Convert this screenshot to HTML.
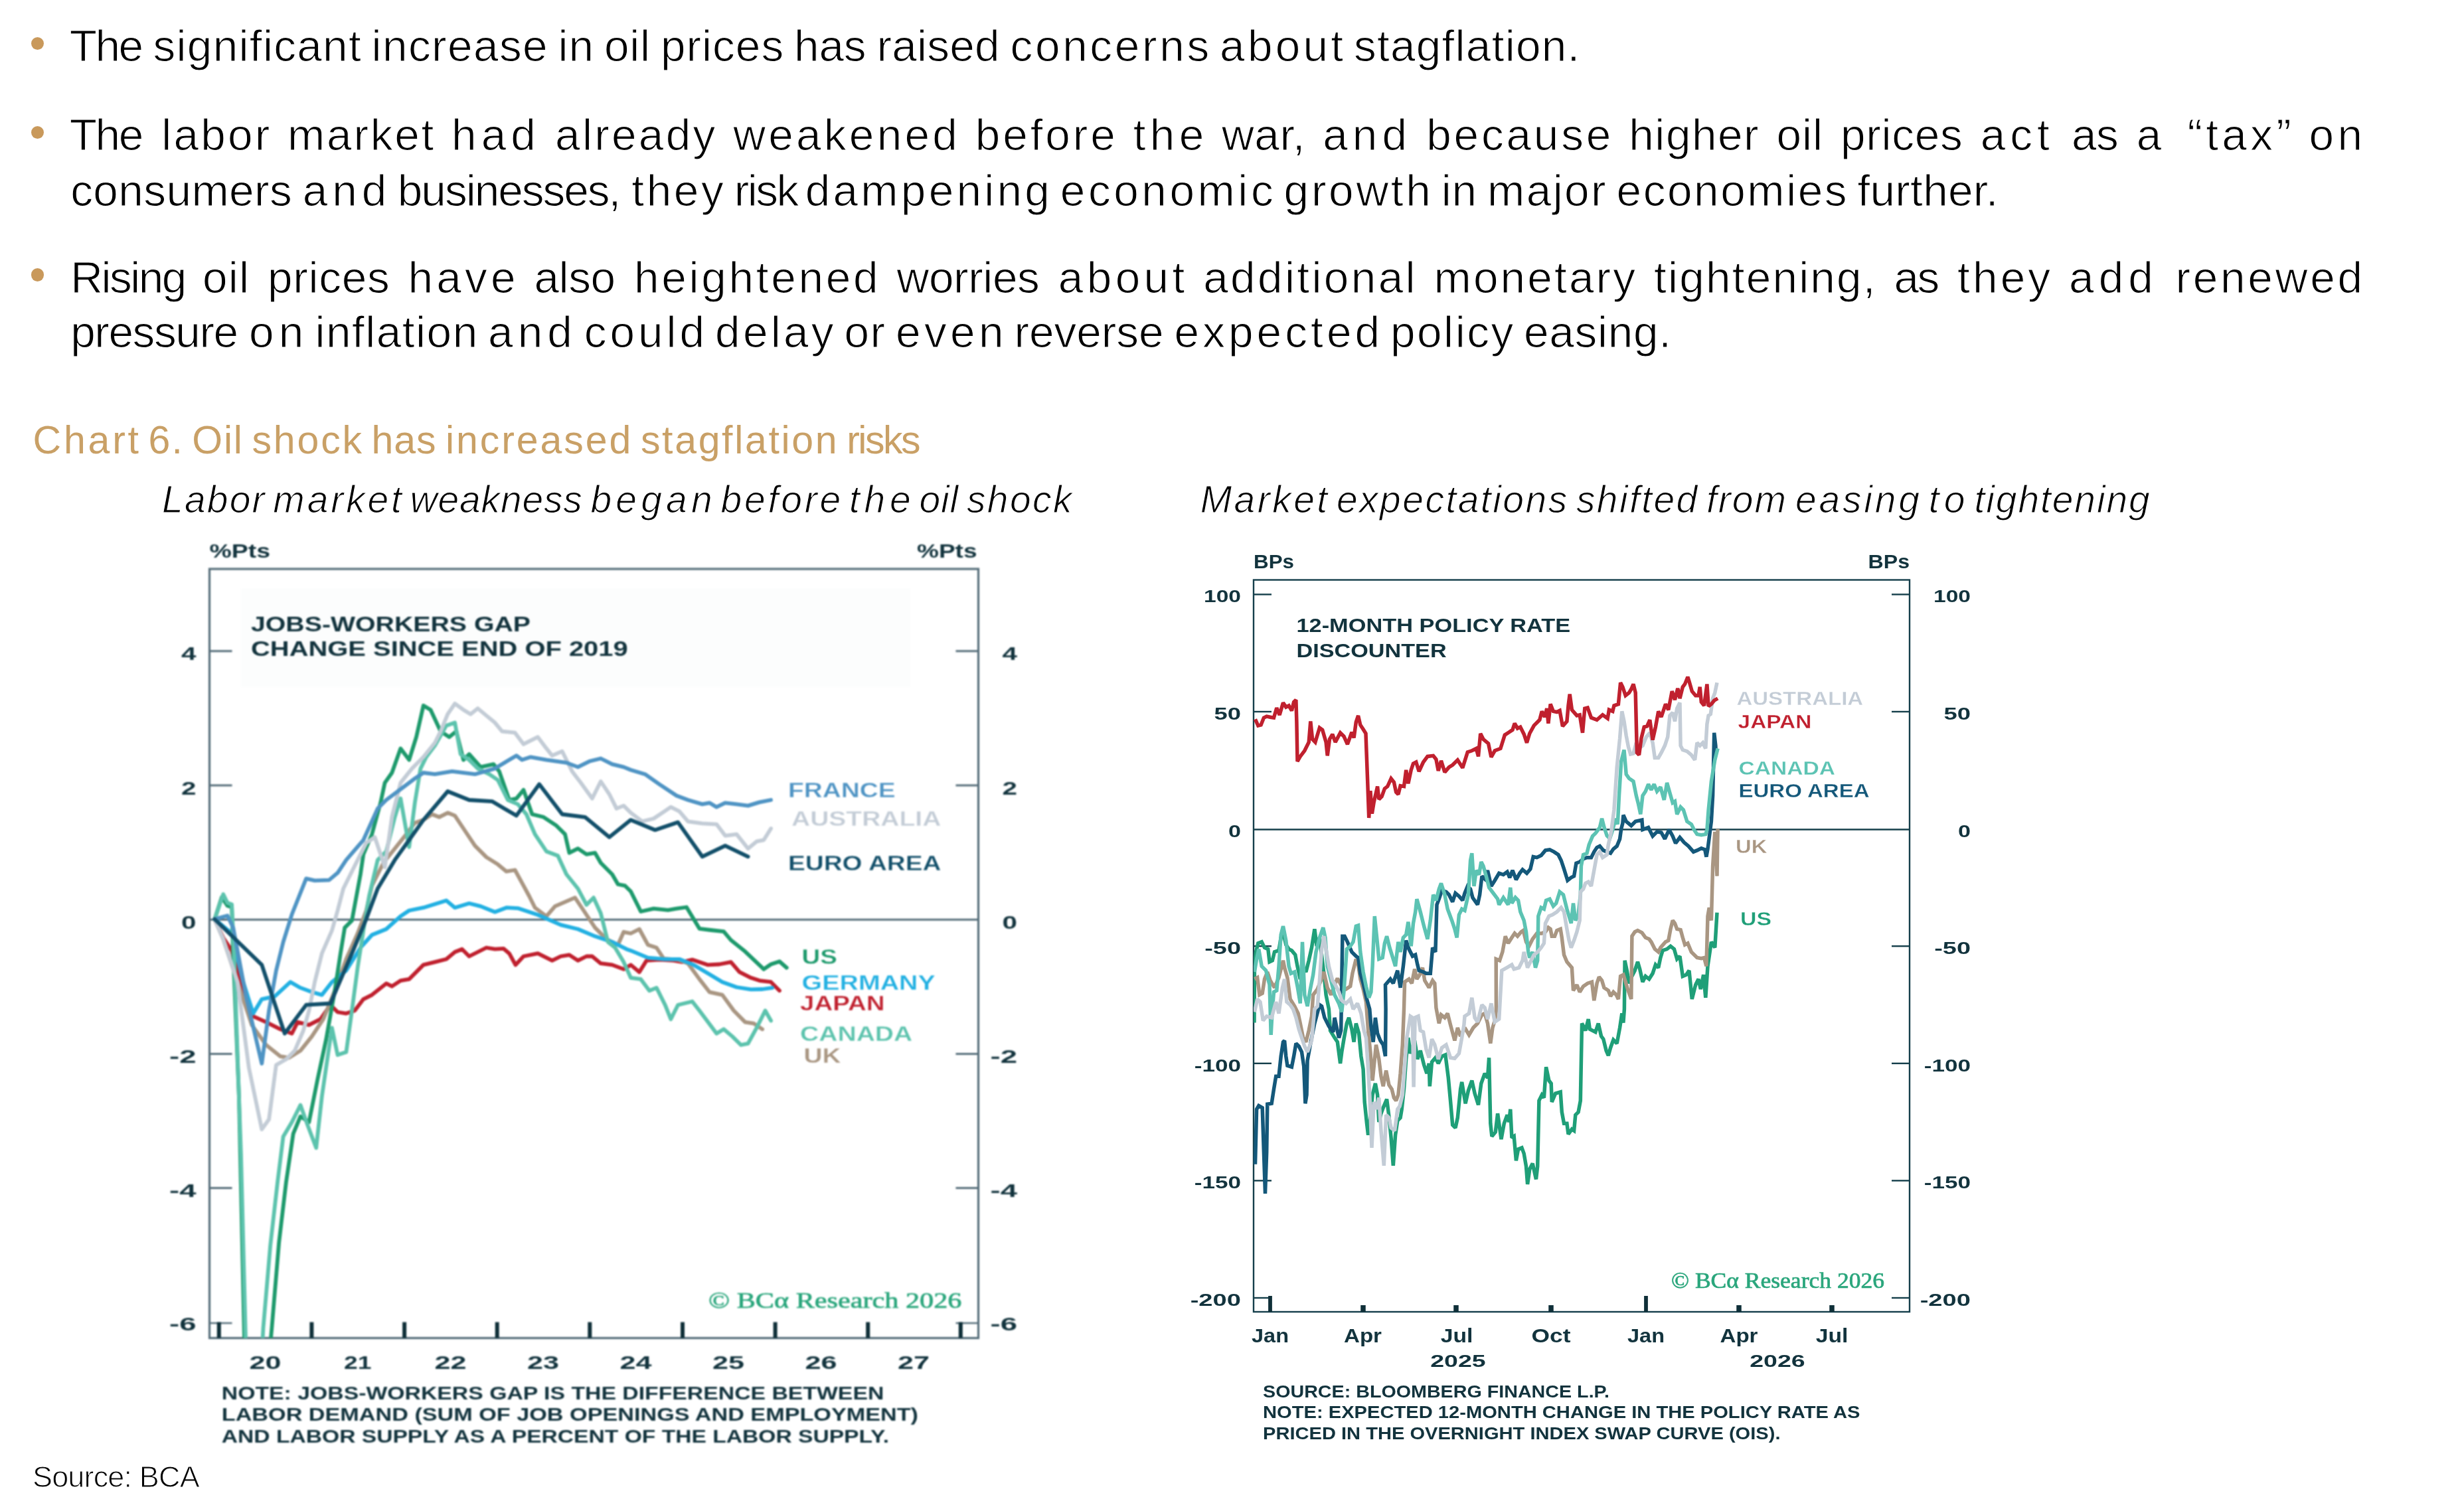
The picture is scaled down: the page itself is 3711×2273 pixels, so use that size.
<!DOCTYPE html>
<html><head><meta charset="utf-8"><title>Chart 6. Oil shock has increased stagflation risks</title>
<style>
html,body{margin:0;padding:0;background:#fff;}
body{width:3711px;height:2273px;position:relative;overflow:hidden;font-family:"Liberation Sans",sans-serif;color:#000;}
.t{position:absolute;white-space:nowrap;line-height:1;margin:0;padding:0;-webkit-text-stroke:1.1px #fff;}
.b{position:absolute;border-radius:50%;background:#c9995b;}
svg{position:absolute;left:0;top:0;}
.bl{filter:blur(1px);}
.br{filter:blur(0.6px);}
svg text{font-family:"Liberation Sans",sans-serif;font-weight:bold;}
.ln{fill:none;stroke-linejoin:round;stroke-linecap:round;}
</style></head><body>
<div class="b" style="left:47.1px;top:55.8px;width:19.4px;height:19.4px"></div>
<div class="b" style="left:47.1px;top:189.8px;width:19.4px;height:19.4px"></div>
<div class="b" style="left:47.1px;top:404.3px;width:19.4px;height:19.4px"></div>
<div class="t" style="left:104.7px;top:35.2px;font-size:67.5px;letter-spacing:-2.500px;">The</div>
<div class="t" style="left:230.5px;top:35.2px;font-size:67.5px;letter-spacing:1.305px;">significant</div>
<div class="t" style="left:559.6px;top:35.2px;font-size:67.5px;letter-spacing:1.410px;">increase</div>
<div class="t" style="left:840.6px;top:35.2px;font-size:67.5px;letter-spacing:0.820px;">in</div>
<div class="t" style="left:909.9px;top:35.2px;font-size:67.5px;letter-spacing:0.820px;">oil</div>
<div class="t" style="left:995.0px;top:35.2px;font-size:67.5px;letter-spacing:1.022px;">prices</div>
<div class="t" style="left:1196.1px;top:35.2px;font-size:67.5px;letter-spacing:-0.245px;">has</div>
<div class="t" style="left:1320.4px;top:35.2px;font-size:67.5px;letter-spacing:0.264px;">raised</div>
<div class="t" style="left:1521.5px;top:35.2px;font-size:67.5px;letter-spacing:3.680px;">concerns</div>
<div class="t" style="left:1837.1px;top:35.2px;font-size:67.5px;letter-spacing:4.280px;">about</div>
<div class="t" style="left:2039.0px;top:35.2px;font-size:67.5px;letter-spacing:1.252px;">stagflation.</div>
<div class="t" style="left:104.7px;top:169.4px;font-size:67.5px;letter-spacing:-2.331px;">The</div>
<div class="t" style="left:243.3px;top:169.4px;font-size:67.5px;letter-spacing:3.193px;">labor</div>
<div class="t" style="left:433.1px;top:169.4px;font-size:67.5px;letter-spacing:2.764px;">market</div>
<div class="t" style="left:680.1px;top:169.4px;font-size:67.5px;letter-spacing:7.000px;">had</div>
<div class="t" style="left:836.1px;top:169.4px;font-size:67.5px;letter-spacing:3.302px;">already</div>
<div class="t" style="left:1104.2px;top:169.4px;font-size:67.5px;letter-spacing:4.267px;">weakened</div>
<div class="t" style="left:1468.7px;top:169.4px;font-size:67.5px;letter-spacing:3.936px;">before</div>
<div class="t" style="left:1706.8px;top:169.4px;font-size:67.5px;letter-spacing:6.272px;">the</div>
<div class="t" style="left:1840.1px;top:169.4px;font-size:67.5px;letter-spacing:0.510px;">war,</div>
<div class="t" style="left:1992.3px;top:169.4px;font-size:67.5px;letter-spacing:7.000px;">and</div>
<div class="t" style="left:2148.2px;top:169.4px;font-size:67.5px;letter-spacing:3.818px;">because</div>
<div class="t" style="left:2453.3px;top:169.4px;font-size:67.5px;letter-spacing:1.524px;">higher</div>
<div class="t" style="left:2675.5px;top:169.4px;font-size:67.5px;letter-spacing:0.969px;">oil</div>
<div class="t" style="left:2771.9px;top:169.4px;font-size:67.5px;letter-spacing:0.780px;">prices</div>
<div class="t" style="left:2982.8px;top:169.4px;font-size:67.5px;letter-spacing:7.000px;">act</div>
<div class="t" style="left:3119.9px;top:169.4px;font-size:67.5px;letter-spacing:-0.312px;">as</div>
<div class="t" style="left:3217.8px;top:169.4px;font-size:67.5px;">a</div>
<div class="t" style="left:3294.6px;top:169.4px;font-size:67.5px;letter-spacing:5.272px;">“tax”</div>
<div class="t" style="left:3477.6px;top:169.4px;font-size:67.5px;letter-spacing:5.335px;">on</div>
<div class="t" style="left:106.2px;top:252.5px;font-size:67.5px;letter-spacing:0.429px;">consumers</div>
<div class="t" style="left:455.7px;top:252.5px;font-size:67.5px;letter-spacing:7.000px;">and</div>
<div class="t" style="left:598.8px;top:252.5px;font-size:67.5px;letter-spacing:-1.989px;">businesses,</div>
<div class="t" style="left:951.3px;top:252.5px;font-size:67.5px;letter-spacing:3.628px;">they</div>
<div class="t" style="left:1105.7px;top:252.5px;font-size:67.5px;letter-spacing:-2.500px;">risk</div>
<div class="t" style="left:1212.7px;top:252.5px;font-size:67.5px;letter-spacing:4.273px;">dampening</div>
<div class="t" style="left:1596.8px;top:252.5px;font-size:67.5px;letter-spacing:4.567px;">economic</div>
<div class="t" style="left:1933.6px;top:252.5px;font-size:67.5px;letter-spacing:3.744px;">growth</div>
<div class="t" style="left:2170.8px;top:252.5px;font-size:67.5px;letter-spacing:0.820px;">in</div>
<div class="t" style="left:2240.1px;top:252.5px;font-size:67.5px;letter-spacing:2.401px;">major</div>
<div class="t" style="left:2434.5px;top:252.5px;font-size:67.5px;letter-spacing:2.585px;">economies</div>
<div class="t" style="left:2797.5px;top:252.5px;font-size:67.5px;letter-spacing:0.277px;">further.</div>
<div class="t" style="left:106.2px;top:383.5px;font-size:67.5px;letter-spacing:-2.500px;">Rising</div>
<div class="t" style="left:305.1px;top:383.5px;font-size:67.5px;letter-spacing:1.222px;">oil</div>
<div class="t" style="left:403.0px;top:383.5px;font-size:67.5px;letter-spacing:0.731px;">prices</div>
<div class="t" style="left:614.6px;top:383.5px;font-size:67.5px;letter-spacing:5.166px;">have</div>
<div class="t" style="left:804.4px;top:383.5px;font-size:67.5px;letter-spacing:-0.375px;">also</div>
<div class="t" style="left:955.1px;top:383.5px;font-size:67.5px;letter-spacing:3.713px;">heightened</div>
<div class="t" style="left:1350.5px;top:383.5px;font-size:67.5px;letter-spacing:-0.364px;">worries</div>
<div class="t" style="left:1593.8px;top:383.5px;font-size:67.5px;letter-spacing:5.394px;">about</div>
<div class="t" style="left:1812.2px;top:383.5px;font-size:67.5px;letter-spacing:3.380px;">additional</div>
<div class="t" style="left:2159.5px;top:383.5px;font-size:67.5px;letter-spacing:3.157px;">monetary</div>
<div class="t" style="left:2491.0px;top:383.5px;font-size:67.5px;letter-spacing:2.210px;">tightening,</div>
<div class="t" style="left:2852.5px;top:383.5px;font-size:67.5px;letter-spacing:-2.500px;">as</div>
<div class="t" style="left:2948.1px;top:383.5px;font-size:67.5px;letter-spacing:4.147px;">they</div>
<div class="t" style="left:3116.1px;top:383.5px;font-size:67.5px;letter-spacing:7.000px;">add</div>
<div class="t" style="left:3276.5px;top:383.5px;font-size:67.5px;letter-spacing:3.766px;">renewed</div>
<div class="t" style="left:106.2px;top:466.4px;font-size:67.5px;letter-spacing:-1.381px;">pressure</div>
<div class="t" style="left:375.1px;top:466.4px;font-size:67.5px;letter-spacing:7.000px;">on</div>
<div class="t" style="left:474.5px;top:466.4px;font-size:67.5px;letter-spacing:1.501px;">inflation</div>
<div class="t" style="left:735.1px;top:466.4px;font-size:67.5px;letter-spacing:7.000px;">and</div>
<div class="t" style="left:879.7px;top:466.4px;font-size:67.5px;letter-spacing:5.008px;">could</div>
<div class="t" style="left:1077.1px;top:466.4px;font-size:67.5px;letter-spacing:4.255px;">delay</div>
<div class="t" style="left:1271.4px;top:466.4px;font-size:67.5px;letter-spacing:1.623px;">or</div>
<div class="t" style="left:1349.0px;top:466.4px;font-size:67.5px;letter-spacing:5.400px;">even</div>
<div class="t" style="left:1527.5px;top:466.4px;font-size:67.5px;letter-spacing:0.001px;">reverse</div>
<div class="t" style="left:1768.5px;top:466.4px;font-size:67.5px;letter-spacing:5.086px;">expected</div>
<div class="t" style="left:2094.0px;top:466.4px;font-size:67.5px;letter-spacing:2.519px;">policy</div>
<div class="t" style="left:2295.1px;top:466.4px;font-size:67.5px;letter-spacing:0.713px;">easing.</div>
<div class="t" style="left:49.5px;top:633.7px;font-size:59px;letter-spacing:3.804px;color:#c9a066;-webkit-text-stroke:0;">Chart</div>
<div class="t" style="left:223.6px;top:633.7px;font-size:59px;letter-spacing:1.974px;color:#c9a066;-webkit-text-stroke:0;">6.</div>
<div class="t" style="left:289.3px;top:633.7px;font-size:59px;letter-spacing:1.700px;color:#c9a066;-webkit-text-stroke:0;">Oil</div>
<div class="t" style="left:379.4px;top:633.7px;font-size:59px;letter-spacing:2.885px;color:#c9a066;-webkit-text-stroke:0;">shock</div>
<div class="t" style="left:559.6px;top:633.7px;font-size:59px;letter-spacing:0.886px;color:#c9a066;-webkit-text-stroke:0;">has</div>
<div class="t" style="left:671.1px;top:633.7px;font-size:59px;letter-spacing:2.919px;color:#c9a066;-webkit-text-stroke:0;">increased</div>
<div class="t" style="left:964.9px;top:633.7px;font-size:59px;letter-spacing:2.679px;color:#c9a066;-webkit-text-stroke:0;">stagflation</div>
<div class="t" style="left:1275.2px;top:633.7px;font-size:59px;letter-spacing:-2.500px;color:#c9a066;-webkit-text-stroke:0;">risks</div>
<div class="t" style="left:244.0px;top:724.1px;font-size:57px;letter-spacing:2.175px;font-style:italic;">Labor</div>
<div class="t" style="left:411.3px;top:724.1px;font-size:57px;letter-spacing:3.890px;font-style:italic;">market</div>
<div class="t" style="left:617.6px;top:724.1px;font-size:57px;letter-spacing:0.816px;font-style:italic;">weakness</div>
<div class="t" style="left:889.5px;top:724.1px;font-size:57px;letter-spacing:6.151px;font-style:italic;">began</div>
<div class="t" style="left:1085.4px;top:724.1px;font-size:57px;letter-spacing:3.845px;font-style:italic;">before</div>
<div class="t" style="left:1278.9px;top:724.1px;font-size:57px;letter-spacing:6.742px;font-style:italic;">the</div>
<div class="t" style="left:1384.4px;top:724.1px;font-size:57px;letter-spacing:0.900px;font-style:italic;">oil</div>
<div class="t" style="left:1455.9px;top:724.1px;font-size:57px;letter-spacing:2.433px;font-style:italic;">shock</div>
<div class="t" style="left:1807.7px;top:724.1px;font-size:57px;letter-spacing:3.448px;font-style:italic;">Market</div>
<div class="t" style="left:2012.9px;top:724.1px;font-size:57px;letter-spacing:2.477px;font-style:italic;">expectations</div>
<div class="t" style="left:2373.9px;top:724.1px;font-size:57px;letter-spacing:2.395px;font-style:italic;">shifted</div>
<div class="t" style="left:2569.9px;top:724.1px;font-size:57px;letter-spacing:2.070px;font-style:italic;">from</div>
<div class="t" style="left:2703.9px;top:724.1px;font-size:57px;letter-spacing:3.842px;font-style:italic;">easing</div>
<div class="t" style="left:2904.8px;top:724.1px;font-size:57px;letter-spacing:7.000px;font-style:italic;">to</div>
<div class="t" style="left:2973.6px;top:724.1px;font-size:57px;letter-spacing:1.888px;font-style:italic;">tightening</div>
<div class="t" style="left:49.3px;top:2201.5px;font-size:45px;letter-spacing:-0.841px;will-change:transform;">Source: BCA</div>
<svg width="3711" height="2273" viewBox="0 0 3711 2273">
<defs><clipPath id="cl"><rect x="315.5" y="857" width="1158" height="1158.5"/></clipPath><clipPath id="cr"><rect x="1888" y="873.5" width="988" height="1102.5"/></clipPath></defs>
<g id="leftchart" class="bl">
<rect x="363" y="886" width="1008" height="149" fill="#fcfdfd"/>
<rect x="315.5" y="857" width="1158.0" height="1158.5" fill="none" stroke="#566e7a" stroke-width="3.2"/>
<line x1="315.5" x2="1473.5" y1="1385.2" y2="1385.2" stroke="#566e7a" stroke-width="3"/>
<line x1="315.5" x2="349.5" y1="980.8000000000001" y2="980.8000000000001" stroke="#566e7a" stroke-width="3"/>
<line x1="1439.5" x2="1473.5" y1="980.8000000000001" y2="980.8000000000001" stroke="#566e7a" stroke-width="3"/>
<line x1="315.5" x2="349.5" y1="1183.0" y2="1183.0" stroke="#566e7a" stroke-width="3"/>
<line x1="1439.5" x2="1473.5" y1="1183.0" y2="1183.0" stroke="#566e7a" stroke-width="3"/>
<line x1="315.5" x2="349.5" y1="1587.4" y2="1587.4" stroke="#566e7a" stroke-width="3"/>
<line x1="1439.5" x2="1473.5" y1="1587.4" y2="1587.4" stroke="#566e7a" stroke-width="3"/>
<line x1="315.5" x2="349.5" y1="1789.6" y2="1789.6" stroke="#566e7a" stroke-width="3"/>
<line x1="1439.5" x2="1473.5" y1="1789.6" y2="1789.6" stroke="#566e7a" stroke-width="3"/>
<line x1="315.5" x2="349.5" y1="1993" y2="1993" stroke="#566e7a" stroke-width="2.4"/>
<line x1="1439.5" x2="1473.5" y1="1993" y2="1993" stroke="#566e7a" stroke-width="2.4"/>
<line x1="329.8" x2="329.8" y1="1991.5" y2="2015.5" stroke="#0f2f38" stroke-width="6"/>
<line x1="469.4" x2="469.4" y1="1991.5" y2="2015.5" stroke="#0f2f38" stroke-width="6"/>
<line x1="609.1" x2="609.1" y1="1991.5" y2="2015.5" stroke="#0f2f38" stroke-width="6"/>
<line x1="748.7" x2="748.7" y1="1991.5" y2="2015.5" stroke="#0f2f38" stroke-width="6"/>
<line x1="888.3" x2="888.3" y1="1991.5" y2="2015.5" stroke="#0f2f38" stroke-width="6"/>
<line x1="1028.0" x2="1028.0" y1="1991.5" y2="2015.5" stroke="#0f2f38" stroke-width="6"/>
<line x1="1167.6" x2="1167.6" y1="1991.5" y2="2015.5" stroke="#0f2f38" stroke-width="6"/>
<line x1="1307.2" x2="1307.2" y1="1991.5" y2="2015.5" stroke="#0f2f38" stroke-width="6"/>
<line x1="1446.8" x2="1446.8" y1="1991.5" y2="2015.5" stroke="#0f2f38" stroke-width="6"/>
<g clip-path="url(#cl)">
<path class="ln" d="M323.2 1384.5L336.2 1412.5L349.1 1431.9L366.3 1492.2L381.4 1530.9L400.8 1539.6L422.3 1550.3L439.6 1556.8L448.2 1539.6L465.4 1543.9L482.6 1535.2L497.7 1513.7L508.5 1524.5L521.4 1526.6L534.3 1522.3L547.3 1505.1L560.2 1498.6L581.7 1481.4L590.3 1485.7L603.3 1477.1L616.2 1474.9L637.7 1453.4L655.0 1449.1L672.2 1444.8L685.1 1434.0L695.9 1429.7L706.6 1440.5L719.6 1434.0L732.5 1427.5L745.4 1429.7L758.3 1428.8L767.0 1436.2L776.4 1453.4L788.5 1440.5L810.0 1436.2L831.6 1446.9L844.5 1440.5L857.4 1438.3L870.4 1446.9L883.3 1440.5L891.9 1440.5L904.8 1451.2L922.0 1453.4L939.3 1459.9L950.0 1453.4L962.9 1464.2L973.7 1446.9L993.1 1445.6L1014.6 1446.9L1027.5 1449.1L1042.6 1445.6L1066.3 1453.4L1083.5 1452.5L1100.8 1449.1L1113.7 1464.2L1130.9 1472.8L1143.9 1477.1L1161.1 1479.2L1174.0 1492.2" stroke="#c0202e" stroke-width="5.8"/>
<path class="ln" d="M323.2 1384.5L336.2 1414.6L357.7 1479.2L379.2 1543.9L400.8 1574.0L422.3 1591.2L435.2 1593.4L452.5 1582.6L469.7 1561.1L486.9 1535.2L504.2 1492.2L521.4 1444.8L538.6 1406.0L551.6 1371.5L560.2 1334.2L577.4 1299.7L594.6 1278.2L611.9 1256.6L624.8 1239.4L637.7 1235.1L650.6 1226.5L661.4 1230.8L674.3 1224.3L685.1 1228.6L698.0 1248.0L715.3 1273.9L732.5 1291.1L749.7 1301.9L762.7 1312.7L775.6 1310.5L788.5 1334.2L797.1 1350.0L805.7 1367.2L823.0 1380.2L835.9 1365.1L866.0 1352.2L879.0 1371.5L896.2 1397.4L913.4 1414.6L930.7 1423.2L939.3 1403.8L950.0 1406.0L962.9 1399.5L975.8 1423.2L988.8 1427.5L999.5 1443.9L1021.1 1445.6L1036.2 1451.2L1053.4 1474.9L1068.5 1494.3L1087.9 1498.6L1105.1 1522.3L1122.3 1539.6L1135.2 1541.7L1148.2 1550.3" stroke="#a99682" stroke-width="5.8"/>
<path class="ln" d="M323.2 1384.5L349.1 1406.0L366.3 1479.2L381.4 1526.6L394.3 1505.1L413.7 1500.8L437.4 1479.2L452.5 1487.9L469.7 1494.3L484.8 1498.6L499.9 1479.2L521.4 1462.0L542.9 1427.5L560.2 1408.2L581.7 1399.5L603.3 1380.2L616.2 1371.5L637.7 1367.2L672.2 1356.5L685.1 1367.2L706.6 1360.8L723.9 1365.1L745.4 1373.7L762.7 1367.2L779.9 1368.1L810.0 1378.0L844.5 1393.1L870.4 1399.5L896.2 1410.3L922.0 1418.9L943.6 1429.7L950.0 1431.9L975.8 1442.6L1001.7 1444.8L1023.2 1444.8L1044.8 1453.4L1066.3 1466.3L1087.9 1479.2L1109.4 1487.0L1130.9 1490.4L1148.2 1490.0L1163.2 1487.9" stroke="#22b0e2" stroke-width="5.8"/>
<path class="ln" d="M323.2 1385.0L334.0 1351.4L342.6 1364.3L349.1 1366.5L351.2 1436.2L359.9 1651.6L368.5 2039.3M405.9 2039.3L409.4 2000.1L420.2 1871.3L430.9 1780.8L441.7 1707.6L452.5 1681.7L465.4 1690.3L478.3 1625.7L491.2 1565.4L504.2 1492.2L512.8 1436.2L519.2 1397.4L530.0 1386.6L542.9 1317.0L547.3 1286.8L560.2 1256.6L573.1 1209.3L579.6 1179.1L590.3 1164.0L603.3 1127.4L616.2 1144.6L627.0 1110.2L637.7 1062.8L648.5 1069.2L663.6 1101.6L676.5 1110.2L687.3 1101.6L698.0 1144.6L706.6 1136.0L723.9 1155.4L743.3 1151.1L751.9 1161.9L767.0 1205.0L777.7 1202.8L788.5 1189.9L801.4 1226.5L818.7 1230.8L838.0 1243.7L851.0 1256.6L857.4 1284.7L870.4 1278.2L883.3 1286.8L896.2 1284.7L904.8 1299.7L922.0 1317.0L930.7 1332.0L941.4 1334.2L950.0 1342.8L965.1 1373.0L984.5 1368.7L1006.0 1370.8L1018.9 1368.7L1034.0 1366.5L1053.4 1398.8L1070.6 1401.0L1090.0 1403.1L1100.8 1416.0L1122.3 1433.3L1150.3 1459.9L1161.1 1452.5L1174.0 1448.2L1184.8 1457.7" stroke="#1d9a6c" stroke-width="5.8"/>
<path class="ln" d="M323.2 1385.0L336.2 1347.1L342.6 1360.0L349.1 1362.2L352.5 1436.2L362.9 1737.7L370.6 2039.3M394.3 2039.3L396.5 2000.1L407.2 1875.6L418.0 1780.8L426.6 1711.9L439.6 1690.3L452.5 1664.5L463.2 1694.6L476.2 1729.1L484.8 1651.6L499.9 1548.2L508.5 1589.1L521.4 1584.8L530.0 1522.3L538.6 1457.7L547.3 1401.7L555.9 1350.0L568.8 1295.4L581.7 1282.5L594.6 1230.8L603.3 1202.8L616.2 1276.0L624.8 1209.3L633.4 1157.6L642.0 1140.3L655.0 1123.1L672.2 1092.9L685.1 1088.6L693.7 1136.0L706.6 1144.6L719.6 1157.6L736.8 1166.2L749.7 1174.8L764.8 1205.0L779.9 1211.4L792.8 1226.5L805.7 1256.6L823.0 1282.5L840.2 1289.0L853.1 1317.0L870.4 1338.5L883.3 1362.9L894.0 1352.2L904.8 1375.8L915.6 1418.9L926.4 1427.5L939.3 1449.1L950.0 1472.8L965.1 1474.9L978.0 1492.2L988.8 1487.9L1001.7 1513.7L1010.3 1535.2L1021.1 1513.7L1042.6 1508.5L1053.4 1522.3L1066.3 1539.6L1079.2 1556.8L1090.0 1550.3L1102.9 1561.1L1115.9 1574.0L1126.6 1571.9L1139.6 1548.2L1152.5 1522.3L1161.1 1537.4" stroke="#5cc3ad" stroke-width="5.8"/>
<path class="ln" d="M323.2 1384.5L336.2 1414.6L357.7 1479.2L374.9 1608.5L394.3 1701.1L405.1 1686.0L415.9 1604.2L430.9 1595.6L443.9 1582.6L456.8 1552.5L465.4 1522.3L474.0 1479.2L484.8 1436.2L499.9 1401.7L508.5 1371.5L517.1 1338.5L534.3 1304.0L551.6 1269.6L564.5 1261.0L579.6 1306.2L590.3 1230.8L603.3 1179.1L620.5 1157.6L637.7 1140.3L655.0 1118.8L663.6 1101.6L674.3 1075.7L685.1 1059.8L698.0 1069.2L708.8 1075.7L719.6 1067.1L732.5 1077.9L745.4 1088.6L756.2 1101.6L775.6 1103.7L788.5 1120.9L810.0 1110.2L823.0 1127.4L831.6 1138.2L846.7 1131.7L861.7 1161.9L874.7 1179.1L891.9 1202.8L904.8 1177.0L917.7 1196.3L928.5 1217.9L939.3 1213.6L950.0 1224.3L967.2 1237.3L984.5 1233.0L997.4 1224.3L1010.3 1215.7L1023.2 1222.2L1036.2 1237.3L1057.7 1240.3L1079.2 1241.6L1092.2 1258.8L1109.4 1256.6L1126.6 1278.2L1139.6 1267.4L1150.3 1265.3L1161.1 1248.0" stroke="#c3ccd6" stroke-width="5.8"/>
<path class="ln" d="M323.2 1384.5L342.6 1379.3L351.2 1397.4L370.6 1500.8L394.3 1602.0L405.1 1522.3L415.9 1462.0L426.6 1418.9L439.6 1377.3L461.1 1323.4L474.0 1326.4L495.6 1325.6L508.5 1314.8L521.4 1295.4L547.3 1265.3L568.8 1217.9L581.7 1205.0L607.6 1185.6L624.8 1172.6L637.7 1164.0L655.0 1166.2L680.8 1161.9L715.3 1166.2L745.4 1157.6L767.0 1144.6L777.7 1138.2L786.3 1144.6L799.3 1140.3L823.0 1144.6L853.1 1148.9L870.4 1155.4L887.6 1146.8L904.8 1142.5L922.0 1151.1L939.3 1155.4L950.0 1159.7L971.5 1166.2L993.1 1181.3L1018.9 1198.5L1036.2 1205.0L1057.7 1211.4L1068.5 1209.3L1079.2 1215.7L1092.2 1209.3L1109.4 1211.4L1126.6 1213.6L1143.9 1208.4L1161.1 1205.0" stroke="#4f94c4" stroke-width="5.8"/>
<path class="ln" d="M323.2 1384.5L394.3 1453.4L428.8 1556.8L461.1 1513.7L497.7 1511.5L530.0 1436.2L551.6 1384.5L568.8 1338.5L594.6 1295.4L616.2 1265.3L637.7 1235.1L674.3 1192.0L706.6 1205.0L741.1 1207.1L777.7 1228.6L812.2 1181.3L846.7 1226.5L881.1 1230.8L917.7 1261.0L950.0 1235.1L986.6 1250.2L1021.1 1238.6L1057.7 1290.3L1092.2 1273.9L1126.6 1290.3" stroke="#124f6a" stroke-width="5.8"/>
</g>
</g>
<g id="rightchart" class="br">
<rect x="1888" y="873.5" width="988" height="1102.5" fill="none" stroke="#153f4b" stroke-width="2.4"/>
<line x1="1888" x2="2876" y1="1249.5" y2="1249.5" stroke="#153f4b" stroke-width="2.4"/>
<line x1="1888" x2="1915" y1="895.4" y2="895.4" stroke="#153f4b" stroke-width="2.4"/>
<line x1="2849" x2="2876" y1="895.4" y2="895.4" stroke="#153f4b" stroke-width="2.4"/>
<line x1="1888" x2="1915" y1="1072.0" y2="1072.0" stroke="#153f4b" stroke-width="2.4"/>
<line x1="2849" x2="2876" y1="1072.0" y2="1072.0" stroke="#153f4b" stroke-width="2.4"/>
<line x1="1888" x2="1915" y1="1425.2" y2="1425.2" stroke="#153f4b" stroke-width="2.4"/>
<line x1="2849" x2="2876" y1="1425.2" y2="1425.2" stroke="#153f4b" stroke-width="2.4"/>
<line x1="1888" x2="1915" y1="1601.8" y2="1601.8" stroke="#153f4b" stroke-width="2.4"/>
<line x1="2849" x2="2876" y1="1601.8" y2="1601.8" stroke="#153f4b" stroke-width="2.4"/>
<line x1="1888" x2="1915" y1="1778.4" y2="1778.4" stroke="#153f4b" stroke-width="2.4"/>
<line x1="2849" x2="2876" y1="1778.4" y2="1778.4" stroke="#153f4b" stroke-width="2.4"/>
<line x1="1888" x2="1915" y1="1955.0" y2="1955.0" stroke="#153f4b" stroke-width="2.4"/>
<line x1="2849" x2="2876" y1="1955.0" y2="1955.0" stroke="#153f4b" stroke-width="2.4"/>
<line x1="1913" x2="1913" y1="1952" y2="1976" stroke="#0f2f38" stroke-width="5.8"/>
<line x1="2053" x2="2053" y1="1966" y2="1976" stroke="#0f2f38" stroke-width="7.5"/>
<line x1="2193" x2="2193" y1="1966" y2="1976" stroke="#0f2f38" stroke-width="7.5"/>
<line x1="2336" x2="2336" y1="1966" y2="1976" stroke="#0f2f38" stroke-width="7.5"/>
<line x1="2479" x2="2479" y1="1952" y2="1976" stroke="#0f2f38" stroke-width="5.8"/>
<line x1="2619" x2="2619" y1="1966" y2="1976" stroke="#0f2f38" stroke-width="7.5"/>
<line x1="2759" x2="2759" y1="1966" y2="1976" stroke="#0f2f38" stroke-width="7.5"/>
<g clip-path="url(#cr)">
<path class="ln" d="M1889.0 1540.5L1889.4 1457.6L1891.5 1433.9L1894.8 1420.9L1900.2 1418.8L1904.5 1427.4L1909.8 1429.6L1912.0 1448.9L1916.3 1446.8L1919.5 1433.9L1926.0 1431.7L1929.2 1412.3L1932.5 1403.7L1936.8 1423.1L1941.1 1429.6L1945.4 1431.7L1950.8 1438.2L1954.0 1455.4L1958.3 1474.8L1962.6 1457.6L1966.9 1464.0L1971.2 1446.8L1975.5 1427.4L1979.9 1399.4L1983.1 1425.2L1987.4 1412.3L1993.9 1466.2L1997.1 1498.5L2001.4 1520.0L2003.5 1552.3L2010.0 1563.1L2014.3 1569.5L2018.6 1601.9L2020.8 1584.6L2024.0 1565.2L2028.3 1541.5L2031.5 1532.9L2035.9 1550.2L2039.1 1569.5L2042.3 1541.5L2046.6 1556.6L2049.9 1591.1L2053.1 1610.5L2055.2 1660.0L2058.5 1692.3L2060.6 1709.6L2063.9 1683.7L2067.1 1649.2L2071.4 1632.0L2074.6 1649.2L2076.8 1690.2L2080.0 1677.2L2083.2 1668.6L2088.6 1655.7L2091.9 1681.5L2095.1 1713.9L2098.3 1755.9L2101.6 1709.6L2104.8 1688.0L2109.1 1683.7L2111.2 1670.8L2114.5 1640.6L2117.7 1595.4L2120.9 1563.1L2124.2 1586.8L2130.6 1567.4L2134.9 1595.4L2139.2 1582.5L2144.6 1604.0L2148.9 1616.9L2152.2 1601.9L2153.3 1636.3L2156.5 1599.7L2161.9 1593.2L2166.2 1601.9L2171.6 1591.1L2176.9 1588.9L2181.3 1623.4L2184.5 1657.9L2187.7 1694.5L2192.0 1698.8L2195.3 1683.7L2199.6 1640.6L2201.7 1629.9L2207.1 1662.2L2211.4 1642.8L2216.8 1627.7L2221.1 1647.1L2226.5 1664.3L2230.8 1632.0L2236.2 1616.9L2240.5 1623.4L2242.6 1593.2L2244.8 1692.3L2246.9 1711.7L2252.3 1705.2L2255.6 1677.2L2261.0 1716.0L2265.3 1692.3L2270.0 1679.4L2272.6 1690.2L2274.8 1670.8L2276.9 1713.9L2280.2 1711.7L2283.4 1748.3L2286.6 1731.1L2292.0 1728.9L2295.2 1737.6L2298.5 1756.9L2300.6 1783.9L2303.8 1761.2L2308.2 1752.6L2313.5 1776.3L2315.7 1756.9L2317.9 1657.9L2322.2 1649.2L2325.4 1653.5L2328.6 1607.2L2332.9 1627.7L2336.2 1632.0L2337.2 1660.0L2342.6 1647.1L2350.2 1644.9L2352.3 1675.1L2355.5 1692.3L2359.9 1692.3L2362.0 1708.5L2367.4 1700.9L2370.6 1703.1L2372.8 1679.4L2377.1 1675.1L2380.3 1657.9L2382.5 1541.5L2387.9 1552.3L2392.2 1535.1L2394.3 1550.2L2402.9 1554.5L2407.2 1541.5L2411.6 1560.9L2414.8 1565.2L2419.1 1582.5L2422.3 1590.0L2425.6 1578.2L2429.9 1566.3L2435.2 1571.7L2439.6 1548.0L2442.8 1526.5L2444.9 1540.5L2446.4 1520.0L2447.1 1446.8L2450.3 1461.9L2453.6 1481.2L2456.8 1472.6L2462.2 1461.9L2466.5 1448.9L2469.7 1459.7L2474.0 1479.1L2478.3 1470.5L2483.7 1474.8L2489.1 1466.2L2493.4 1453.2L2497.7 1457.6L2500.9 1442.5L2504.2 1431.7L2510.6 1429.6L2516.0 1425.2L2521.4 1429.6L2525.7 1444.6L2530.0 1440.3L2534.3 1470.5L2539.7 1468.3L2544.0 1461.9L2548.3 1504.9L2553.7 1483.4L2558.0 1474.8L2561.3 1489.9L2565.6 1468.3L2568.8 1502.8L2572.0 1455.4L2577.4 1418.8L2582.8 1427.4L2586.0 1374.6" stroke="#1f9f78" stroke-width="5.5" style="stroke-linejoin:miter;stroke-miterlimit:2;stroke-linecap:butt"/>
<path class="ln" d="M1889.4 1474.8L1893.7 1472.6L1896.9 1498.5L1901.2 1496.3L1904.5 1474.8L1908.8 1464.0L1913.1 1476.9L1919.5 1487.7L1926.0 1472.6L1932.5 1446.8L1934.6 1457.6L1938.9 1472.6L1943.2 1504.9L1949.7 1515.7L1955.1 1526.5L1958.3 1541.5L1962.6 1563.1L1966.9 1569.5L1971.2 1552.3L1975.5 1530.8L1977.7 1498.5L1984.2 1489.9L1989.5 1476.9L1993.9 1464.0L1999.2 1487.7L2004.6 1498.5L2010.0 1483.4L2014.3 1473.7L2020.8 1485.6L2027.2 1489.9L2033.7 1485.6L2036.9 1466.2L2042.3 1444.6L2045.6 1453.2L2048.8 1474.8L2053.1 1489.9L2057.4 1509.2L2060.6 1552.3L2063.9 1584.6L2067.1 1627.7L2072.5 1573.8L2076.8 1595.4L2080.0 1621.2L2083.2 1636.3L2087.6 1612.6L2091.9 1634.2L2096.2 1640.6L2099.4 1653.5L2102.6 1657.9L2105.9 1649.2L2109.1 1616.9L2112.3 1573.8L2114.5 1520.0L2115.6 1479.1L2122.0 1474.8L2126.3 1481.2L2130.6 1459.7L2133.9 1474.8L2138.2 1468.3L2142.5 1457.6L2145.7 1476.9L2152.2 1487.7L2157.6 1476.9L2160.8 1481.2L2162.9 1517.9L2167.3 1541.5L2170.5 1528.6L2175.9 1532.9L2180.2 1526.5L2184.5 1543.7L2190.9 1567.4L2195.3 1548.0L2199.6 1560.9L2206.0 1548.0L2212.5 1558.8L2218.9 1548.0L2225.4 1541.5L2231.9 1528.6L2236.2 1526.5L2240.5 1541.6L2244.8 1571.7L2248.0 1548.0L2251.3 1537.3L2253.4 1522.2L2253.2 1444.6L2258.6 1446.8L2262.9 1433.9L2267.2 1410.2L2271.5 1420.9L2276.9 1412.3L2281.2 1405.9L2285.5 1410.2L2290.9 1403.7L2294.2 1401.5L2298.5 1418.8L2302.8 1425.2L2308.2 1414.5L2314.6 1405.9L2322.2 1405.9L2327.5 1403.7L2331.9 1397.2L2335.1 1399.4L2337.2 1410.2L2341.5 1410.2L2344.8 1401.5L2350.2 1399.4L2352.3 1412.3L2355.5 1438.2L2359.9 1448.9L2367.4 1457.6L2369.5 1492.0L2374.9 1483.4L2379.2 1494.2L2384.6 1485.6L2391.1 1481.2L2397.5 1479.1L2400.8 1507.1L2405.1 1481.2L2408.3 1471.6L2412.6 1476.9L2415.9 1487.7L2422.3 1492.0L2425.6 1500.6L2429.9 1494.2L2434.2 1498.5L2437.4 1504.9L2440.6 1470.5L2444.9 1468.3L2448.2 1479.1L2451.4 1489.9L2456.8 1504.9L2457.9 1410.2L2462.2 1403.7L2466.5 1401.5L2472.9 1404.8L2478.3 1412.3L2483.7 1414.5L2486.9 1418.8L2492.3 1429.6L2497.7 1433.9L2500.9 1427.4L2508.5 1418.8L2512.8 1416.6L2516.0 1399.4L2519.2 1386.5L2522.5 1390.8L2525.7 1399.4L2531.1 1400.5L2534.3 1412.3L2537.6 1423.1L2541.9 1420.9L2547.3 1433.9L2555.9 1442.5L2562.3 1443.6L2566.6 1442.5L2569.9 1455.4L2572.0 1380.0L2574.2 1367.1L2577.4 1386.5L2579.6 1304.6L2582.8 1252.9L2586.0 1319.7L2587.1 1248.6" stroke="#a99682" stroke-width="5.5" style="stroke-linejoin:miter;stroke-miterlimit:2;stroke-linecap:butt"/>
<path class="ln" d="M1890.5 1753.7L1892.6 1670.8L1895.8 1665.4L1901.2 1668.6L1903.4 1735.4L1905.5 1797.9L1907.7 1735.4L1908.8 1663.2L1915.2 1662.2L1918.5 1640.6L1921.7 1621.2L1926.0 1621.2L1929.2 1591.1L1932.5 1569.5L1934.6 1567.4L1936.8 1591.1L1938.9 1605.1L1945.4 1607.2L1948.6 1591.1L1951.9 1571.7L1956.2 1576.0L1960.5 1584.6L1963.7 1606.2L1965.9 1662.2L1968.0 1649.2L1969.1 1597.5L1973.4 1573.8L1979.9 1541.5L1987.4 1513.5L1990.6 1515.7L1994.9 1532.9L2001.4 1545.9L2007.9 1554.5L2010.0 1532.9L2016.5 1563.1L2019.7 1552.3L2020.8 1476.9L2021.9 1410.2L2025.1 1410.2L2029.4 1418.8L2035.9 1433.9L2042.3 1440.3L2045.6 1442.5L2048.8 1466.2L2053.1 1481.2L2058.5 1504.9L2062.8 1520.0L2064.9 1545.8L2068.2 1569.5L2071.4 1532.9L2074.6 1556.6L2078.9 1567.4L2083.2 1573.8L2086.5 1591.1L2087.1 1520.0L2086.5 1483.4L2094.0 1474.8L2098.3 1481.2L2104.8 1461.9L2109.1 1487.7L2113.4 1455.4L2117.7 1416.6L2122.0 1429.6L2127.4 1440.3L2131.7 1438.2L2134.9 1453.2L2137.1 1461.9L2143.6 1464.0L2147.9 1466.2L2154.3 1466.2L2157.6 1427.4L2161.9 1433.9L2164.0 1362.8L2167.3 1354.2L2171.6 1341.2L2178.0 1343.4L2182.3 1347.7L2187.7 1358.5L2192.0 1345.5L2197.4 1349.9L2202.8 1356.3L2206.0 1345.5L2210.3 1334.8L2214.6 1339.1L2217.9 1352.0L2225.4 1362.8L2228.6 1347.7L2231.9 1319.7L2236.2 1324.0L2240.5 1311.1L2245.9 1334.8L2251.3 1326.2L2257.7 1315.4L2264.2 1317.5L2270.0 1313.2L2273.7 1321.9L2278.0 1311.1L2283.4 1325.1L2288.8 1315.4L2293.1 1310.0L2299.5 1315.4L2304.9 1308.9L2309.2 1290.6L2314.6 1291.7L2321.1 1288.5L2327.5 1280.9L2334.0 1279.8L2340.5 1283.1L2346.9 1287.4L2351.2 1296.0L2355.5 1308.9L2360.9 1326.2L2366.3 1321.9L2370.6 1319.7L2373.9 1300.3L2379.2 1298.2L2384.6 1293.8L2390.0 1291.7L2396.5 1291.7L2400.8 1283.1L2405.1 1276.6L2409.4 1274.5L2414.8 1280.9L2420.2 1283.1L2425.6 1285.2L2429.9 1278.8L2435.2 1274.5L2439.6 1263.7L2441.7 1248.6L2443.9 1240.0L2444.9 1227.6L2449.2 1237.3L2456.8 1243.7L2463.2 1237.3L2472.9 1235.1L2474.0 1249.7L2482.6 1246.5L2489.1 1259.4L2495.6 1252.9L2502.0 1254.0L2507.4 1263.7L2513.9 1249.7L2519.2 1259.4L2523.6 1270.2L2530.0 1261.5L2536.5 1269.1L2542.9 1274.5L2550.5 1283.1L2555.9 1280.9L2562.3 1277.7L2567.7 1279.8L2569.9 1290.6L2572.0 1278.8L2577.4 1237.3L2579.6 1198.5L2581.7 1103.7L2583.9 1123.1L2584.3 1133.9" stroke="#14587a" stroke-width="5.5" style="stroke-linejoin:miter;stroke-miterlimit:2;stroke-linecap:butt"/>
<path class="ln" d="M1889.4 1464.0L1892.6 1444.6L1895.8 1429.6L1900.2 1455.4L1906.6 1461.9L1912.0 1483.4L1914.2 1558.8L1916.3 1520.0L1918.5 1494.2L1922.8 1492.0L1926.0 1455.4L1929.2 1408.0L1932.5 1395.1L1936.8 1416.6L1941.1 1455.4L1944.3 1466.2L1949.7 1464.0L1954.0 1485.6L1958.3 1511.4L1961.5 1418.8L1964.8 1498.5L1969.1 1515.7L1973.4 1489.9L1977.7 1468.3L1982.0 1433.9L1987.4 1412.3L1992.8 1397.2L1996.0 1412.3L1999.2 1455.4L2004.6 1476.9L2010.0 1498.5L2016.5 1511.4L2020.8 1524.3L2024.0 1494.2L2028.3 1429.6L2033.7 1425.2L2038.0 1418.8L2042.3 1395.1L2045.6 1394.0L2048.8 1433.9L2053.1 1464.0L2057.4 1485.6L2061.7 1502.8L2064.9 1494.2L2067.1 1455.4L2070.3 1380.0L2073.6 1412.3L2076.8 1444.6L2082.2 1442.5L2085.4 1420.9L2088.6 1410.2L2092.9 1427.4L2098.3 1444.6L2101.6 1455.4L2105.9 1418.8L2109.1 1433.9L2113.4 1412.3L2117.7 1408.0L2120.9 1388.6L2125.2 1425.2L2128.5 1390.8L2131.7 1373.5L2133.9 1354.2L2139.2 1373.5L2144.6 1395.1L2150.0 1414.5L2154.3 1386.5L2158.6 1347.7L2162.9 1356.3L2167.3 1339.1L2170.5 1330.5L2175.9 1347.7L2180.2 1369.2L2186.6 1386.5L2190.9 1399.4L2194.2 1412.3L2197.4 1377.9L2201.7 1369.2L2206.0 1371.4L2211.4 1347.7L2214.6 1296.0L2216.8 1285.2L2220.0 1334.8L2223.3 1311.1L2227.6 1317.5L2230.8 1298.2L2234.0 1304.6L2238.3 1319.7L2242.6 1336.9L2249.1 1345.5L2255.6 1354.2L2257.7 1362.8L2264.2 1352.0L2270.0 1360.6L2271.5 1362.8L2274.8 1336.9L2276.9 1360.6L2282.3 1352.0L2286.6 1356.3L2289.8 1373.5L2295.2 1386.5L2298.5 1403.7L2301.7 1433.9L2303.8 1442.5L2308.2 1433.9L2312.5 1457.6L2315.7 1446.8L2316.8 1380.0L2321.1 1367.1L2325.4 1369.2L2328.6 1356.3L2334.0 1354.2L2339.4 1364.9L2343.7 1360.6L2349.1 1343.4L2354.5 1347.7L2359.9 1369.2L2363.1 1380.0L2366.3 1390.8L2369.5 1360.6L2372.8 1386.5L2377.1 1377.9L2380.3 1347.7L2381.4 1304.6L2384.6 1287.4L2390.0 1285.2L2393.2 1272.3L2398.6 1259.4L2402.9 1255.1L2409.4 1246.5L2412.6 1232.9L2415.9 1245.9L2420.2 1258.8L2424.5 1263.1L2428.8 1250.2L2433.1 1232.9L2436.3 1241.6L2438.5 1198.5L2441.7 1146.8L2446.0 1129.6L2449.2 1166.2L2453.6 1172.6L2460.0 1176.9L2464.3 1198.5L2467.6 1211.4L2470.8 1226.5L2474.0 1198.5L2478.3 1192.0L2482.6 1181.2L2486.9 1189.9L2491.2 1181.2L2495.6 1192.0L2500.9 1185.6L2506.3 1204.9L2510.6 1179.1L2514.9 1194.2L2519.2 1209.2L2522.5 1207.1L2525.7 1226.5L2531.1 1215.7L2535.4 1220.0L2540.8 1237.3L2547.3 1241.6L2551.6 1250.2L2555.9 1256.6L2562.3 1257.7L2568.8 1256.6L2570.9 1250.2L2573.1 1220.0L2577.4 1176.9L2582.8 1144.6L2587.1 1127.4" stroke="#5cc3b3" stroke-width="5.5" style="stroke-linejoin:miter;stroke-miterlimit:2;stroke-linecap:butt"/>
<path class="ln" d="M1889.4 1524.3L1893.7 1504.9L1898.0 1509.2L1902.3 1537.3L1907.7 1530.8L1915.2 1532.9L1921.7 1509.2L1926.0 1526.5L1931.4 1487.7L1934.6 1474.8L1937.9 1509.2L1943.2 1513.6L1947.5 1520.0L1951.9 1532.9L1956.2 1550.2L1958.3 1556.6L1964.8 1576.0L1969.1 1584.6L1975.5 1567.4L1979.9 1520.0L1984.2 1515.7L1987.4 1476.9L1990.6 1429.6L1993.9 1410.2L1997.1 1429.6L2001.4 1455.4L2006.8 1476.9L2011.1 1483.4L2016.5 1494.2L2020.8 1507.1L2027.2 1511.4L2033.7 1504.9L2038.0 1520.0L2044.5 1511.4L2049.9 1526.5L2054.2 1552.3L2057.4 1563.1L2060.6 1610.5L2062.8 1649.2L2066.0 1728.9L2069.2 1660.0L2073.6 1670.8L2076.8 1653.5L2080.0 1703.1L2084.3 1755.9L2087.6 1679.4L2091.9 1683.7L2095.1 1698.8L2100.5 1703.1L2104.8 1670.8L2108.0 1666.5L2112.3 1649.2L2115.6 1606.2L2118.8 1563.1L2124.2 1530.8L2127.4 1532.9L2129.1 1637.4L2131.1 1532.9L2136.0 1530.8L2139.2 1552.3L2143.6 1554.5L2147.9 1580.3L2152.2 1593.2L2156.5 1565.2L2160.8 1573.8L2166.2 1595.4L2171.6 1578.2L2178.0 1573.8L2184.5 1593.2L2190.9 1594.3L2197.4 1586.8L2201.7 1563.1L2204.9 1543.7L2206.0 1530.8L2212.5 1526.5L2216.8 1502.8L2221.1 1532.9L2225.4 1539.4L2231.9 1513.6L2236.2 1517.9L2240.5 1535.1L2245.9 1511.4L2251.3 1539.4L2257.7 1535.1L2261.8 1461.9L2269.4 1457.6L2276.9 1453.2L2280.2 1459.7L2287.7 1457.6L2293.1 1446.8L2295.2 1433.9L2300.6 1457.6L2306.0 1446.8L2310.3 1438.2L2315.7 1433.9L2321.1 1427.4L2325.4 1420.9L2327.5 1390.8L2332.9 1380.0L2338.3 1377.9L2344.8 1373.5L2351.2 1367.1L2355.5 1373.5L2359.9 1399.4L2363.1 1416.6L2366.3 1427.4L2370.6 1416.6L2374.9 1403.7L2379.2 1386.5L2380.3 1343.4L2384.6 1339.1L2387.9 1330.5L2392.2 1328.3L2396.5 1334.8L2400.8 1311.1L2405.1 1287.4L2409.4 1283.1L2413.7 1291.7L2420.2 1287.4L2422.3 1272.3L2426.6 1252.9L2430.9 1220.0L2435.2 1155.4L2439.6 1112.3L2442.8 1071.4L2446.0 1086.5L2449.2 1108.0L2452.5 1125.2L2455.7 1136.0L2460.0 1134.9L2463.2 1123.1L2467.6 1127.4L2474.0 1123.1L2479.4 1110.2L2484.8 1103.7L2489.1 1118.8L2492.3 1141.4L2497.7 1141.4L2502.0 1133.9L2507.4 1123.1L2511.7 1110.2L2514.9 1077.9L2519.2 1073.5L2522.5 1086.5L2525.7 1067.1L2530.0 1058.5L2531.1 1123.1L2534.3 1129.6L2540.8 1131.7L2547.3 1137.1L2552.6 1144.6L2555.9 1118.8L2560.2 1123.1L2564.5 1118.8L2568.8 1127.4L2570.9 1090.8L2573.1 1077.9L2576.3 1075.7L2579.6 1052.0L2582.8 1043.4L2586.0 1028.3" stroke="#c3ccd6" stroke-width="5.5" style="stroke-linejoin:miter;stroke-miterlimit:2;stroke-linecap:butt"/>
<path class="ln" d="M1890.5 1083.4L1894.8 1093.1L1899.1 1092.0L1903.4 1081.2L1907.7 1079.1L1913.1 1080.2L1918.5 1081.2L1922.8 1066.2L1927.1 1076.9L1932.5 1058.6L1936.8 1065.1L1941.1 1062.9L1945.4 1070.5L1948.6 1057.5L1951.9 1054.3L1952.9 1087.7L1954.0 1146.9L1958.3 1139.4L1964.8 1130.8L1971.2 1117.9L1973.8 1086.6L1976.6 1113.5L1980.9 1117.9L1987.4 1096.3L1991.7 1099.5L1997.1 1117.9L1999.2 1138.3L2002.5 1113.5L2006.8 1106.0L2011.1 1117.9L2018.6 1103.9L2024.0 1109.2L2029.4 1121.1L2035.9 1102.8L2039.1 1111.4L2042.3 1087.7L2045.6 1078.0L2048.8 1092.0L2053.1 1098.5L2057.0 1104.9L2059.6 1173.9L2061.7 1232.0L2063.9 1191.1L2066.4 1225.6L2069.2 1208.3L2074.6 1184.6L2076.8 1204.0L2081.1 1199.7L2085.4 1187.9L2089.7 1184.6L2095.1 1172.8L2099.4 1178.2L2102.6 1193.2L2105.9 1196.5L2109.1 1183.6L2114.5 1184.6L2117.7 1159.9L2120.9 1180.3L2125.2 1159.9L2128.5 1150.2L2132.8 1148.0L2137.1 1162.0L2143.6 1148.0L2150.0 1139.4L2158.6 1138.3L2162.9 1143.7L2166.2 1160.9L2170.5 1145.9L2175.9 1163.1L2182.3 1155.6L2187.7 1152.3L2195.3 1144.8L2202.8 1156.6L2210.3 1132.9L2216.8 1130.8L2223.3 1127.5L2226.5 1139.4L2229.7 1104.9L2234.0 1113.5L2241.6 1120.0L2245.9 1140.5L2251.3 1130.8L2259.9 1127.5L2266.3 1107.1L2271.5 1103.7L2278.0 1099.4L2281.2 1089.7L2285.5 1097.2L2289.8 1095.1L2295.2 1105.9L2299.5 1118.8L2303.8 1104.8L2310.3 1092.9L2318.9 1084.3L2322.2 1071.4L2326.5 1080.0L2329.7 1067.1L2331.9 1089.7L2335.1 1060.6L2339.4 1071.4L2344.8 1072.5L2349.1 1070.3L2353.4 1094.0L2359.9 1086.5L2362.0 1062.8L2364.2 1045.5L2367.4 1069.2L2374.9 1077.9L2379.2 1076.8L2383.5 1103.7L2386.8 1067.1L2391.1 1066.0L2396.5 1081.1L2405.1 1084.3L2413.7 1076.8L2421.2 1082.2L2423.4 1069.2L2428.8 1071.4L2430.9 1062.8L2437.4 1060.6L2440.6 1028.3L2443.9 1034.8L2448.2 1047.7L2453.6 1043.4L2456.8 1038.0L2460.0 1030.5L2463.2 1043.4L2465.4 1133.9L2468.6 1137.1L2471.9 1112.3L2476.2 1095.1L2480.5 1094.0L2484.8 1084.3L2489.1 1114.5L2493.4 1095.1L2497.7 1071.4L2502.0 1080.0L2508.5 1060.6L2512.8 1069.2L2518.2 1041.2L2522.5 1054.2L2526.8 1036.9L2530.0 1052.0L2534.3 1034.8L2537.6 1030.5L2541.9 1019.7L2544.0 1026.2L2548.3 1041.2L2553.7 1047.7L2558.0 1047.7L2560.2 1034.8L2562.3 1057.4L2566.6 1062.8L2570.9 1030.5L2573.1 1063.9L2577.4 1060.6L2581.7 1055.2L2587.1 1052.0" stroke="#c0202e" stroke-width="5.5" style="stroke-linejoin:miter;stroke-miterlimit:2;stroke-linecap:butt"/>
</g>
</g>
<g id="labels-left" class="bl">
<text x="315.5" y="840.0" font-size="29" fill="#12333d" textLength="91.5" lengthAdjust="spacingAndGlyphs">%Pts</text>
<text x="1381.0" y="840.0" font-size="29" fill="#12333d" textLength="90.5" lengthAdjust="spacingAndGlyphs">%Pts</text>
<text x="378.0" y="950.8" font-size="32" fill="#12333d" textLength="421.0" lengthAdjust="spacingAndGlyphs">JOBS-WORKERS GAP</text>
<text x="378.0" y="988.3" font-size="32" fill="#12333d" textLength="567.7" lengthAdjust="spacingAndGlyphs">CHANGE SINCE END OF 2019</text>
<text x="273.0" y="994.3" font-size="28" fill="#12333d" textLength="22.5" lengthAdjust="spacingAndGlyphs">4</text>
<text x="1509.5" y="994.3" font-size="28" fill="#12333d" textLength="22.5" lengthAdjust="spacingAndGlyphs">4</text>
<text x="273.0" y="1196.5" font-size="28" fill="#12333d" textLength="22.5" lengthAdjust="spacingAndGlyphs">2</text>
<text x="1509.5" y="1196.5" font-size="28" fill="#12333d" textLength="22.5" lengthAdjust="spacingAndGlyphs">2</text>
<text x="273.0" y="1398.7" font-size="28" fill="#12333d" textLength="22.5" lengthAdjust="spacingAndGlyphs">0</text>
<text x="1509.5" y="1398.7" font-size="28" fill="#12333d" textLength="22.5" lengthAdjust="spacingAndGlyphs">0</text>
<text x="255.0" y="1600.9" font-size="28" fill="#12333d" textLength="40.5" lengthAdjust="spacingAndGlyphs">-2</text>
<text x="1491.5" y="1600.9" font-size="28" fill="#12333d" textLength="40.5" lengthAdjust="spacingAndGlyphs">-2</text>
<text x="255.0" y="1803.1" font-size="28" fill="#12333d" textLength="40.5" lengthAdjust="spacingAndGlyphs">-4</text>
<text x="1491.5" y="1803.1" font-size="28" fill="#12333d" textLength="40.5" lengthAdjust="spacingAndGlyphs">-4</text>
<text x="255.0" y="2003.5" font-size="28" fill="#12333d" textLength="40.5" lengthAdjust="spacingAndGlyphs">-6</text>
<text x="1491.5" y="2003.5" font-size="28" fill="#12333d" textLength="40.5" lengthAdjust="spacingAndGlyphs">-6</text>
<text x="375.4" y="2062.0" font-size="28" fill="#12333d" textLength="48.0" lengthAdjust="spacingAndGlyphs">20</text>
<text x="518.1" y="2062.0" font-size="28" fill="#12333d" textLength="41.5" lengthAdjust="spacingAndGlyphs">21</text>
<text x="654.4" y="2062.0" font-size="28" fill="#12333d" textLength="48.0" lengthAdjust="spacingAndGlyphs">22</text>
<text x="793.9" y="2062.0" font-size="28" fill="#12333d" textLength="48.0" lengthAdjust="spacingAndGlyphs">23</text>
<text x="933.4" y="2062.0" font-size="28" fill="#12333d" textLength="48.0" lengthAdjust="spacingAndGlyphs">24</text>
<text x="1072.9" y="2062.0" font-size="28" fill="#12333d" textLength="48.0" lengthAdjust="spacingAndGlyphs">25</text>
<text x="1212.4" y="2062.0" font-size="28" fill="#12333d" textLength="48.0" lengthAdjust="spacingAndGlyphs">26</text>
<text x="1351.9" y="2062.0" font-size="28" fill="#12333d" textLength="48.0" lengthAdjust="spacingAndGlyphs">27</text>
<text x="1187.0" y="1200.6" font-size="31" fill="#4f94c4" textLength="161.5" lengthAdjust="spacingAndGlyphs" style="stroke:#fff;stroke-width:0.35px">FRANCE</text>
<text x="1192.0" y="1243.7" font-size="31" fill="#c3ccd6" textLength="225.4" lengthAdjust="spacingAndGlyphs" style="stroke:#fff;stroke-width:0.35px">AUSTRALIA</text>
<text x="1187.0" y="1311.4" font-size="31" fill="#124f6a" textLength="230.4" lengthAdjust="spacingAndGlyphs" style="stroke:#fff;stroke-width:0.35px">EURO AREA</text>
<text x="1207.6" y="1452.0" font-size="31" fill="#1d9a6c" textLength="53.4" lengthAdjust="spacingAndGlyphs" style="stroke:#fff;stroke-width:0.35px">US</text>
<text x="1207.6" y="1490.9" font-size="31" fill="#22b0e2" textLength="201.2" lengthAdjust="spacingAndGlyphs" style="stroke:#fff;stroke-width:0.35px">GERMANY</text>
<text x="1205.0" y="1522.3" font-size="31" fill="#c0202e" textLength="127.6" lengthAdjust="spacingAndGlyphs" style="stroke:#fff;stroke-width:0.35px">JAPAN</text>
<text x="1205.0" y="1567.6" font-size="31" fill="#5cc3ad" textLength="169.3" lengthAdjust="spacingAndGlyphs" style="stroke:#fff;stroke-width:0.35px">CANADA</text>
<text x="1210.6" y="1601.2" font-size="31" fill="#a99682" textLength="56.0" lengthAdjust="spacingAndGlyphs" style="stroke:#fff;stroke-width:0.35px">UK</text>
<text x="1067.0" y="1970.4" font-size="33" fill="#2aa67c" textLength="381.4" lengthAdjust="spacingAndGlyphs" style="font-family:'Liberation Serif',serif;font-weight:normal;stroke:#2aa67c;stroke-width:0.7px">© BCα Research 2026</text>
<text x="333.8" y="2107.8" font-size="27" fill="#12333d" textLength="997.5" lengthAdjust="spacingAndGlyphs">NOTE: JOBS-WORKERS GAP IS THE DIFFERENCE BETWEEN</text>
<text x="333.8" y="2140.3" font-size="27" fill="#12333d" textLength="1049.2" lengthAdjust="spacingAndGlyphs">LABOR DEMAND (SUM OF JOB OPENINGS AND EMPLOYMENT)</text>
<text x="333.8" y="2172.7" font-size="27" fill="#12333d" textLength="1005.2" lengthAdjust="spacingAndGlyphs">AND LABOR SUPPLY AS A PERCENT OF THE LABOR SUPPLY.</text>
</g><g id="labels-right" class="br">
<text x="1888.0" y="856.0" font-size="29" fill="#12333d" textLength="61.0" lengthAdjust="spacingAndGlyphs">BPs</text>
<text x="2813.6" y="856.0" font-size="29" fill="#12333d" textLength="62.4" lengthAdjust="spacingAndGlyphs">BPs</text>
<text x="1952.5" y="952.0" font-size="30" fill="#12333d" textLength="412.7" lengthAdjust="spacingAndGlyphs">12-MONTH POLICY RATE</text>
<text x="1952.5" y="989.5" font-size="30" fill="#12333d" textLength="226.1" lengthAdjust="spacingAndGlyphs">DISCOUNTER</text>
<text x="1813.0" y="907.2" font-size="26" fill="#12333d" textLength="56.0" lengthAdjust="spacingAndGlyphs">100</text>
<text x="2912.0" y="907.2" font-size="26" fill="#12333d" textLength="56.0" lengthAdjust="spacingAndGlyphs">100</text>
<text x="1828.5" y="1083.8" font-size="26" fill="#12333d" textLength="40.5" lengthAdjust="spacingAndGlyphs">50</text>
<text x="2927.5" y="1083.8" font-size="26" fill="#12333d" textLength="40.5" lengthAdjust="spacingAndGlyphs">50</text>
<text x="1850.0" y="1261.3" font-size="26" fill="#12333d" textLength="19.0" lengthAdjust="spacingAndGlyphs">0</text>
<text x="2949.0" y="1261.3" font-size="26" fill="#12333d" textLength="19.0" lengthAdjust="spacingAndGlyphs">0</text>
<text x="1814.2" y="1437.0" font-size="26" fill="#12333d" textLength="54.8" lengthAdjust="spacingAndGlyphs">-50</text>
<text x="2913.2" y="1437.0" font-size="26" fill="#12333d" textLength="54.8" lengthAdjust="spacingAndGlyphs">-50</text>
<text x="1798.7" y="1613.6" font-size="26" fill="#12333d" textLength="70.3" lengthAdjust="spacingAndGlyphs">-100</text>
<text x="2897.7" y="1613.6" font-size="26" fill="#12333d" textLength="70.3" lengthAdjust="spacingAndGlyphs">-100</text>
<text x="1798.7" y="1790.2" font-size="26" fill="#12333d" textLength="70.3" lengthAdjust="spacingAndGlyphs">-150</text>
<text x="2897.7" y="1790.2" font-size="26" fill="#12333d" textLength="70.3" lengthAdjust="spacingAndGlyphs">-150</text>
<text x="1792.7" y="1966.8" font-size="26" fill="#12333d" textLength="76.3" lengthAdjust="spacingAndGlyphs">-200</text>
<text x="2891.7" y="1966.8" font-size="26" fill="#12333d" textLength="76.3" lengthAdjust="spacingAndGlyphs">-200</text>
<text x="1885.0" y="2021.5" font-size="29.5" fill="#12333d" textLength="56.0" lengthAdjust="spacingAndGlyphs">Jan</text>
<text x="2024.0" y="2021.5" font-size="29.5" fill="#12333d" textLength="57.0" lengthAdjust="spacingAndGlyphs">Apr</text>
<text x="2169.7" y="2021.5" font-size="29.5" fill="#12333d" textLength="48.7" lengthAdjust="spacingAndGlyphs">Jul</text>
<text x="2306.5" y="2021.5" font-size="29.5" fill="#12333d" textLength="59.0" lengthAdjust="spacingAndGlyphs">Oct</text>
<text x="2451.0" y="2021.5" font-size="29.5" fill="#12333d" textLength="56.0" lengthAdjust="spacingAndGlyphs">Jan</text>
<text x="2590.5" y="2021.5" font-size="29.5" fill="#12333d" textLength="57.0" lengthAdjust="spacingAndGlyphs">Apr</text>
<text x="2734.7" y="2021.5" font-size="29.5" fill="#12333d" textLength="48.7" lengthAdjust="spacingAndGlyphs">Jul</text>
<text x="2154.2" y="2059.3" font-size="26" fill="#12333d" textLength="83.5" lengthAdjust="spacingAndGlyphs">2025</text>
<text x="2635.2" y="2059.3" font-size="26" fill="#12333d" textLength="83.5" lengthAdjust="spacingAndGlyphs">2026</text>
<text x="2615.4" y="1061.9" font-size="30" fill="#c3ccd6" textLength="190.8" lengthAdjust="spacingAndGlyphs" style="stroke:#fff;stroke-width:0.35px">AUSTRALIA</text>
<text x="2617.6" y="1097.2" font-size="30" fill="#c0202e" textLength="110.7" lengthAdjust="spacingAndGlyphs" style="stroke:#fff;stroke-width:0.35px">JAPAN</text>
<text x="2618.4" y="1166.6" font-size="30" fill="#5cc3b3" textLength="145.6" lengthAdjust="spacingAndGlyphs" style="stroke:#fff;stroke-width:0.35px">CANADA</text>
<text x="2618.4" y="1200.6" font-size="30" fill="#14587a" textLength="197.3" lengthAdjust="spacingAndGlyphs" style="stroke:#fff;stroke-width:0.35px">EURO AREA</text>
<text x="2614.0" y="1284.6" font-size="30" fill="#a99682" textLength="47.5" lengthAdjust="spacingAndGlyphs" style="stroke:#fff;stroke-width:0.35px">UK</text>
<text x="2621.0" y="1394.3" font-size="30" fill="#1f9f78" textLength="47.0" lengthAdjust="spacingAndGlyphs" style="stroke:#fff;stroke-width:0.35px">US</text>
<text x="2517.0" y="1940.0" font-size="33" fill="#2aa67c" textLength="321.0" lengthAdjust="spacingAndGlyphs" style="font-family:'Liberation Serif',serif;font-weight:normal;stroke:#2aa67c;stroke-width:0.7px">© BCα Research 2026</text>
<text x="1902.0" y="2104.5" font-size="26.5" fill="#12333d" textLength="522.0" lengthAdjust="spacingAndGlyphs">SOURCE: BLOOMBERG FINANCE L.P.</text>
<text x="1902.0" y="2136.0" font-size="26.5" fill="#12333d" textLength="899.4" lengthAdjust="spacingAndGlyphs">NOTE: EXPECTED 12-MONTH CHANGE IN THE POLICY RATE AS</text>
<text x="1902.0" y="2167.8" font-size="26.5" fill="#12333d" textLength="779.5" lengthAdjust="spacingAndGlyphs">PRICED IN THE OVERNIGHT INDEX SWAP CURVE (OIS).</text>
</g>
</svg>
</body></html>
